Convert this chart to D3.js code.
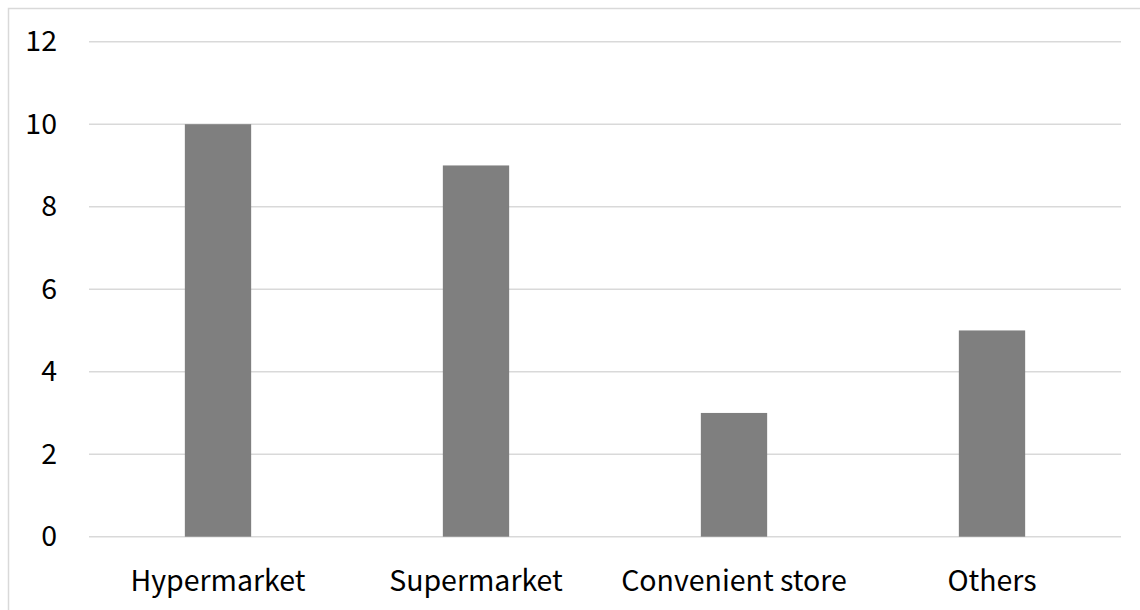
<!DOCTYPE html>
<html><head><meta charset="utf-8">
<script src="https://cdn.jsdelivr.net/npm/d3@7"></script>
<style>
html,body{margin:0;padding:0;background:#fff;}
svg{display:block;}
text{font-family:"Noto Sans CJK KR","Open Sans",sans-serif;fill:#000;}
</style></head>
<body>
<svg id="chart" width="1140" height="610"></svg>
<script>
const categories = ["Hypermarket", "Supermarket", "Convenient store", "Others"];
const values = [10, 9, 3, 5];
const yTicks = [0, 2, 4, 6, 8, 10, 12];

(function () {
const svg = d3.select("#chart");
const W = 1140, H = 610;
const mLeft = 89, mRight = 1121, mTop = 41.7, mBottom = 536.7;
const fs = "28.5px";

svg.append("rect").attr("x", 8.5).attr("y", 8.5).attr("width", W).attr("height", H)
  .attr("fill", "none").attr("stroke", "#d9d9d9").attr("stroke-width", 1.5);

const x = d3.scaleBand().domain(categories).range([mLeft, mRight])
  .paddingInner(0.743).paddingOuter(0.3715);
const y = d3.scaleLinear().domain([0, 12]).range([mBottom, mTop]);

svg.append("g").selectAll("line").data(yTicks).join("line")
  .attr("x1", mLeft).attr("x2", mRight)
  .attr("y1", d => y(d)).attr("y2", d => y(d))
  .attr("stroke", "#d9d9d9").attr("stroke-width", 1.5);

const yAxis = svg.append("g").attr("transform", `translate(${mLeft},0)`)
  .call(d3.axisLeft(y).tickValues(yTicks).tickSize(0).tickPadding(32));
yAxis.select(".domain").remove();
yAxis.selectAll("text").style("font-size", fs).attr("fill", "#000");

svg.append("g").selectAll("rect").data(categories).join("rect")
  .attr("x", d => x(d)).attr("width", x.bandwidth())
  .attr("y", (d, i) => y(values[i])).attr("height", (d, i) => y(0) - y(values[i]))
  .attr("fill", "#7f7f7f");

const xAxis = svg.append("g").attr("transform", `translate(0,${mBottom})`)
  .call(d3.axisBottom(x).tickSize(0).tickPadding(34));
xAxis.select(".domain").remove();
xAxis.selectAll("text").style("font-size", fs).attr("fill", "#000");
})();
</script>
</body></html>
